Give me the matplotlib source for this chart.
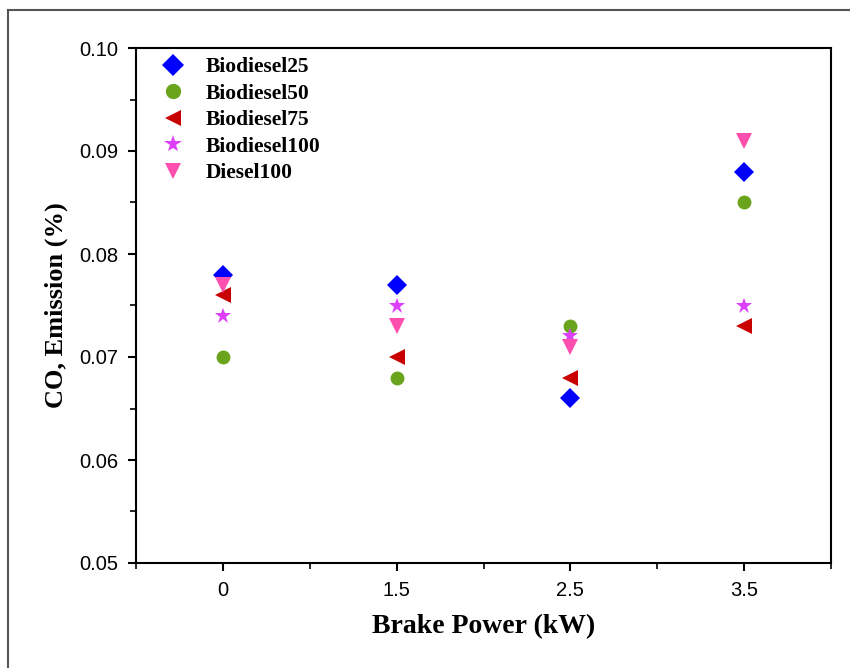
import matplotlib.pyplot as plt
from matplotlib.lines import Line2D
from matplotlib.ticker import MultipleLocator

# data
power_labels = ['0', '1.5', '2.5', '3.5']
biodiesel25 = [0.078, 0.077, 0.066, 0.088]
biodiesel50 = [0.070, 0.068, 0.073, 0.085]
biodiesel75 = [0.076, 0.070, 0.068, 0.073]
biodiesel100 = [0.074, 0.075, 0.072, 0.075]
diesel100 = [0.077, 0.073, 0.071, 0.091]

series = [
    ('Biodiesel25', biodiesel25, 'D', '#0000ff', 10),
    ('Biodiesel50', biodiesel50, 'o', '#6aa31c', 10),
    ('Biodiesel75', biodiesel75, '<', '#c80000', 11),
    ('Biodiesel100', biodiesel100, '*', '#dd40fa', 12),
    ('Diesel100', diesel100, 'v', '#ff4fae', 11),
]

fig = plt.figure(figsize=(8.5, 6.68), dpi=100)
ax = fig.add_axes([136 / 850, 1 - 563 / 668, (831 - 136) / 850, (563 - 48) / 668])

# grey page frame (only top and left visible in the reference)
fig.add_artist(Line2D([8 / 850, 1.0], [1 - 10 / 668, 1 - 10 / 668], color='#555555', lw=1.5,
                      transform=fig.transFigure))
fig.add_artist(Line2D([8 / 850, 8 / 850], [0.0, 1 - 10 / 668], color='#555555', lw=1.5,
                      transform=fig.transFigure))

xs = list(range(len(power_labels)))
for name, vals, mk, col, ms in series:
    ax.plot(xs, vals, linestyle='none', marker=mk, color=col, markersize=ms,
            markeredgewidth=0, label=name)

ax.set_xlim(-0.5, 3.5)
ax.set_ylim(0.05, 0.10)
ax.set_xticks(xs)
ax.set_xticklabels(power_labels)
ax.xaxis.set_minor_locator(MultipleLocator(0.5))
ax.yaxis.set_major_locator(MultipleLocator(0.01))
ax.yaxis.set_minor_locator(MultipleLocator(0.005))
ax.yaxis.set_major_formatter(plt.FormatStrFormatter('%.2f'))

ax.tick_params(which='major', direction='out', length=6, width=1.5,
               labelsize=14.5, pad=7)
ax.tick_params(which='minor', direction='out', length=4, width=1.2)
for lab in ax.get_xticklabels() + ax.get_yticklabels():
    lab.set_family('Liberation Sans')
for sp in ax.spines.values():
    sp.set_linewidth(1.5)

ax.set_xlabel('Brake Power (kW)', family='Liberation Serif', fontweight='bold',
              fontsize=20, labelpad=10)
ax.set_ylabel('CO, Emission (%)', family='Liberation Serif', fontweight='bold',
              fontsize=19, labelpad=8)

ax.legend(loc='upper left', frameon=False, bbox_to_anchor=(-0.008, 1.024),
          prop={'family': 'Liberation Serif', 'weight': 'bold', 'size': 15.5},
          handletextpad=0.5, labelspacing=0.3, borderaxespad=0.6, markerscale=1.1)

fig.savefig('out.png', dpi=100)
